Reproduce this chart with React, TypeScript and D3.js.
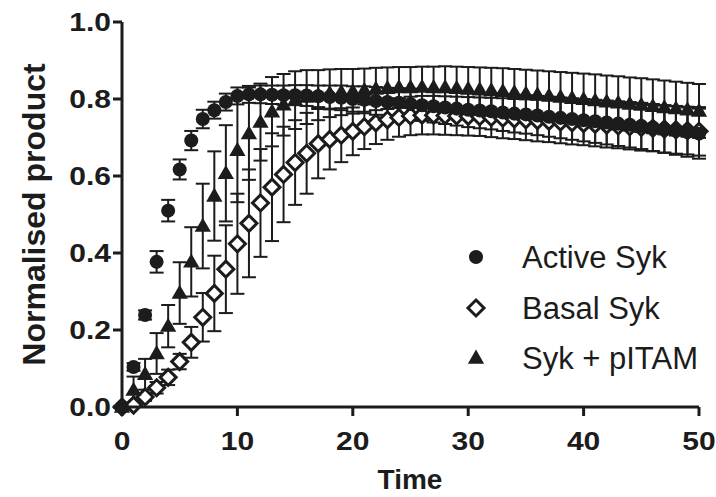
import React from "react";
import * as d3 from "d3";

const times = d3.range(0, 51);

const activeSyk = [0.0, 0.104, 0.239, 0.377, 0.51, 0.617, 0.692, 0.748, 0.771, 0.792, 0.808, 0.812, 0.812, 0.811, 0.81, 0.81, 0.809, 0.807, 0.805, 0.803, 0.8, 0.798, 0.795, 0.792, 0.79, 0.787, 0.784, 0.781, 0.778, 0.775, 0.772, 0.77, 0.768, 0.765, 0.762, 0.76, 0.757, 0.754, 0.751, 0.748, 0.745, 0.742, 0.739, 0.736, 0.733, 0.73, 0.726, 0.722, 0.718, 0.714, 0.71];
const activeErr = [0, 0.01, 0.012, 0.028, 0.028, 0.026, 0.025, 0.024, 0.022, 0.022, 0.022, 0.022, 0.023, 0.024, 0.025, 0.026, 0.027, 0.028, 0.03, 0.032, 0.033, 0.035, 0.036, 0.037, 0.038, 0.04, 0.041, 0.042, 0.043, 0.044, 0.045, 0.046, 0.047, 0.048, 0.049, 0.05, 0.051, 0.052, 0.053, 0.054, 0.055, 0.056, 0.057, 0.058, 0.059, 0.06, 0.061, 0.062, 0.063, 0.064, 0.065];

const basalSyk = [0.0, 0.005, 0.026, 0.05, 0.077, 0.118, 0.168, 0.233, 0.295, 0.358, 0.424, 0.477, 0.53, 0.571, 0.604, 0.635, 0.659, 0.684, 0.695, 0.706, 0.716, 0.728, 0.738, 0.746, 0.752, 0.756, 0.758, 0.758, 0.757, 0.756, 0.755, 0.754, 0.752, 0.75, 0.748, 0.746, 0.744, 0.742, 0.74, 0.738, 0.736, 0.734, 0.732, 0.73, 0.728, 0.726, 0.724, 0.722, 0.72, 0.718, 0.716];
const basalErr = [0, 0.005, 0.01, 0.015, 0.02, 0.02, 0.04, 0.063, 0.098, 0.114, 0.13, 0.14, 0.14, 0.14, 0.124, 0.11, 0.105, 0.09, 0.078, 0.07, 0.062, 0.058, 0.055, 0.052, 0.05, 0.05, 0.05, 0.05, 0.05, 0.05, 0.05, 0.05, 0.051, 0.052, 0.052, 0.053, 0.054, 0.054, 0.055, 0.056, 0.056, 0.057, 0.058, 0.058, 0.059, 0.06, 0.06, 0.061, 0.062, 0.062, 0.063];

const pitamSyk = [0.0, 0.044, 0.085, 0.139, 0.21, 0.296, 0.377, 0.47, 0.548, 0.607, 0.667, 0.71, 0.74, 0.767, 0.785, 0.797, 0.805, 0.81, 0.815, 0.818, 0.82, 0.823, 0.826, 0.828, 0.83, 0.83, 0.831, 0.83, 0.83, 0.828, 0.826, 0.824, 0.822, 0.82, 0.817, 0.814, 0.811, 0.808, 0.805, 0.802, 0.799, 0.796, 0.793, 0.79, 0.787, 0.784, 0.781, 0.778, 0.775, 0.772, 0.769];
const pitamErr = [0, 0.035, 0.04, 0.053, 0.055, 0.08, 0.09, 0.11, 0.116, 0.125, 0.135, 0.12, 0.1, 0.09, 0.08, 0.075, 0.07, 0.065, 0.062, 0.06, 0.058, 0.056, 0.055, 0.054, 0.053, 0.053, 0.053, 0.054, 0.055, 0.056, 0.057, 0.058, 0.059, 0.06, 0.061, 0.062, 0.063, 0.064, 0.065, 0.066, 0.067, 0.068, 0.068, 0.069, 0.069, 0.07, 0.07, 0.07, 0.07, 0.07, 0.07];

const xTicks = [0, 10, 20, 30, 40, 50];
const yTicks = [0, 0.2, 0.4, 0.6, 0.8, 1.0];
const legendLabels = ["Active Syk", "Basal Syk", "Syk + pITAM"];

const W = 716, H = 497;
const INK = "#1c1c1c";

export default function App() {
  const x = d3.scaleLinear().domain([0, 50]).range([122, 699]);
  const y = d3.scaleLinear().domain([0, 1]).range([407, 22]);

  const series = [
    { key: "active", vals: activeSyk, err: activeErr },
    { key: "basal", vals: basalSyk, err: basalErr },
    { key: "pitam", vals: pitamSyk, err: pitamErr },
  ];

  const circle = d3.symbol().type(d3.symbolCircle).size(155)();
  const tri = d3.symbol().type(d3.symbolTriangle).size(115)();
  const diamondPath = "M0,-8L8,0L0,8L-8,0Z";

  const marker = (key: string, cx: number, cy: number, k: string) => {
    if (key === "active") return <path key={k} d={circle!} transform={`translate(${cx},${cy})`} fill={INK} />;
    if (key === "basal")
      return <path key={k} d={diamondPath} transform={`translate(${cx},${cy})`} fill="#fff" stroke={INK} strokeWidth={3} />;
    return <path key={k} d={tri!} transform={`translate(${cx},${cy + 1})`} fill={INK} />;
  };

  const capW = 7;
  const font = "'Liberation Sans', Arial, Helvetica, sans-serif";

  return (
    <div style={{ position: "absolute", left: 0, top: 0 }}>
      <svg width={W} height={H} style={{ display: "block", background: "#fff" }}>
        <g stroke={INK} strokeWidth={2} fill="none">
          {series.map((s) =>
            times.map((t, i) => {
              if (s.err[i] <= 0) return null;
              const cx = x(t);
              const y1 = y(s.vals[i] + s.err[i]);
              const y0 = y(s.vals[i] - s.err[i]);
              return (
                <g key={`${s.key}-e-${i}`}>
                  <line x1={cx} x2={cx} y1={y1} y2={y0} />
                  <line x1={cx - capW} x2={cx + capW} y1={y1} y2={y1} />
                  <line x1={cx - capW} x2={cx + capW} y1={y0} y2={y0} />
                </g>
              );
            })
          )}
        </g>
        {["basal", "active", "pitam"].map((k) => {
          const s = series.find((d) => d.key === k)!;
          return <g key={k}>{times.map((t, i) => marker(k, x(t), y(s.vals[i]), `${k}-m-${i}`))}</g>;
        })}

        <g stroke={INK} strokeWidth={3} fill="none">
          <line x1={x(0)} x2={x(50)} y1={y(0)} y2={y(0)} />
          <line x1={x(0)} x2={x(0)} y1={y(1)} y2={y(0)} />
          {xTicks.map((t) => (
            <line key={`xt${t}`} x1={x(t)} x2={x(t)} y1={y(0)} y2={y(0) + 9} />
          ))}
          {yTicks.map((t) => (
            <line key={`yt${t}`} x1={x(0) - 9} x2={x(0)} y1={y(t)} y2={y(t)} />
          ))}
        </g>
        <g fontFamily={font} fontWeight="bold" fontSize={25} fill={INK}>
          {xTicks.map((t) => (
            <text key={`xl${t}`} transform={`translate(${x(t)},450) scale(1.2,1)`} textAnchor="middle">{t}</text>
          ))}
          {yTicks.map((t) => (
            <text key={`yl${t}`} transform={`translate(111,${y(t) + 9}) scale(1.2,1)`} textAnchor="end">{d3.format(".1f")(t)}</text>
          ))}
          <text x={410} y={489} textAnchor="middle" fontSize={28}>Time</text>
          <text transform={`translate(45,${(y(0) + y(1)) / 2}) rotate(-90)`} textAnchor="middle" fontSize={32}>Normalised product</text>
        </g>

        <g fontFamily={font} fontSize={31} fill={INK}>
          {legendLabels.map((lab, i) => {
            const ly = [257, 308, 358][i];
            const key = ["active", "basal", "pitam"][i];
            return (
              <g key={lab}>
                {marker(key, 476, ly, `lg${i}`)}
                <text x={522} y={ly + 11}>{lab}</text>
              </g>
            );
          })}
        </g>
      </svg>
    </div>
  );
}
